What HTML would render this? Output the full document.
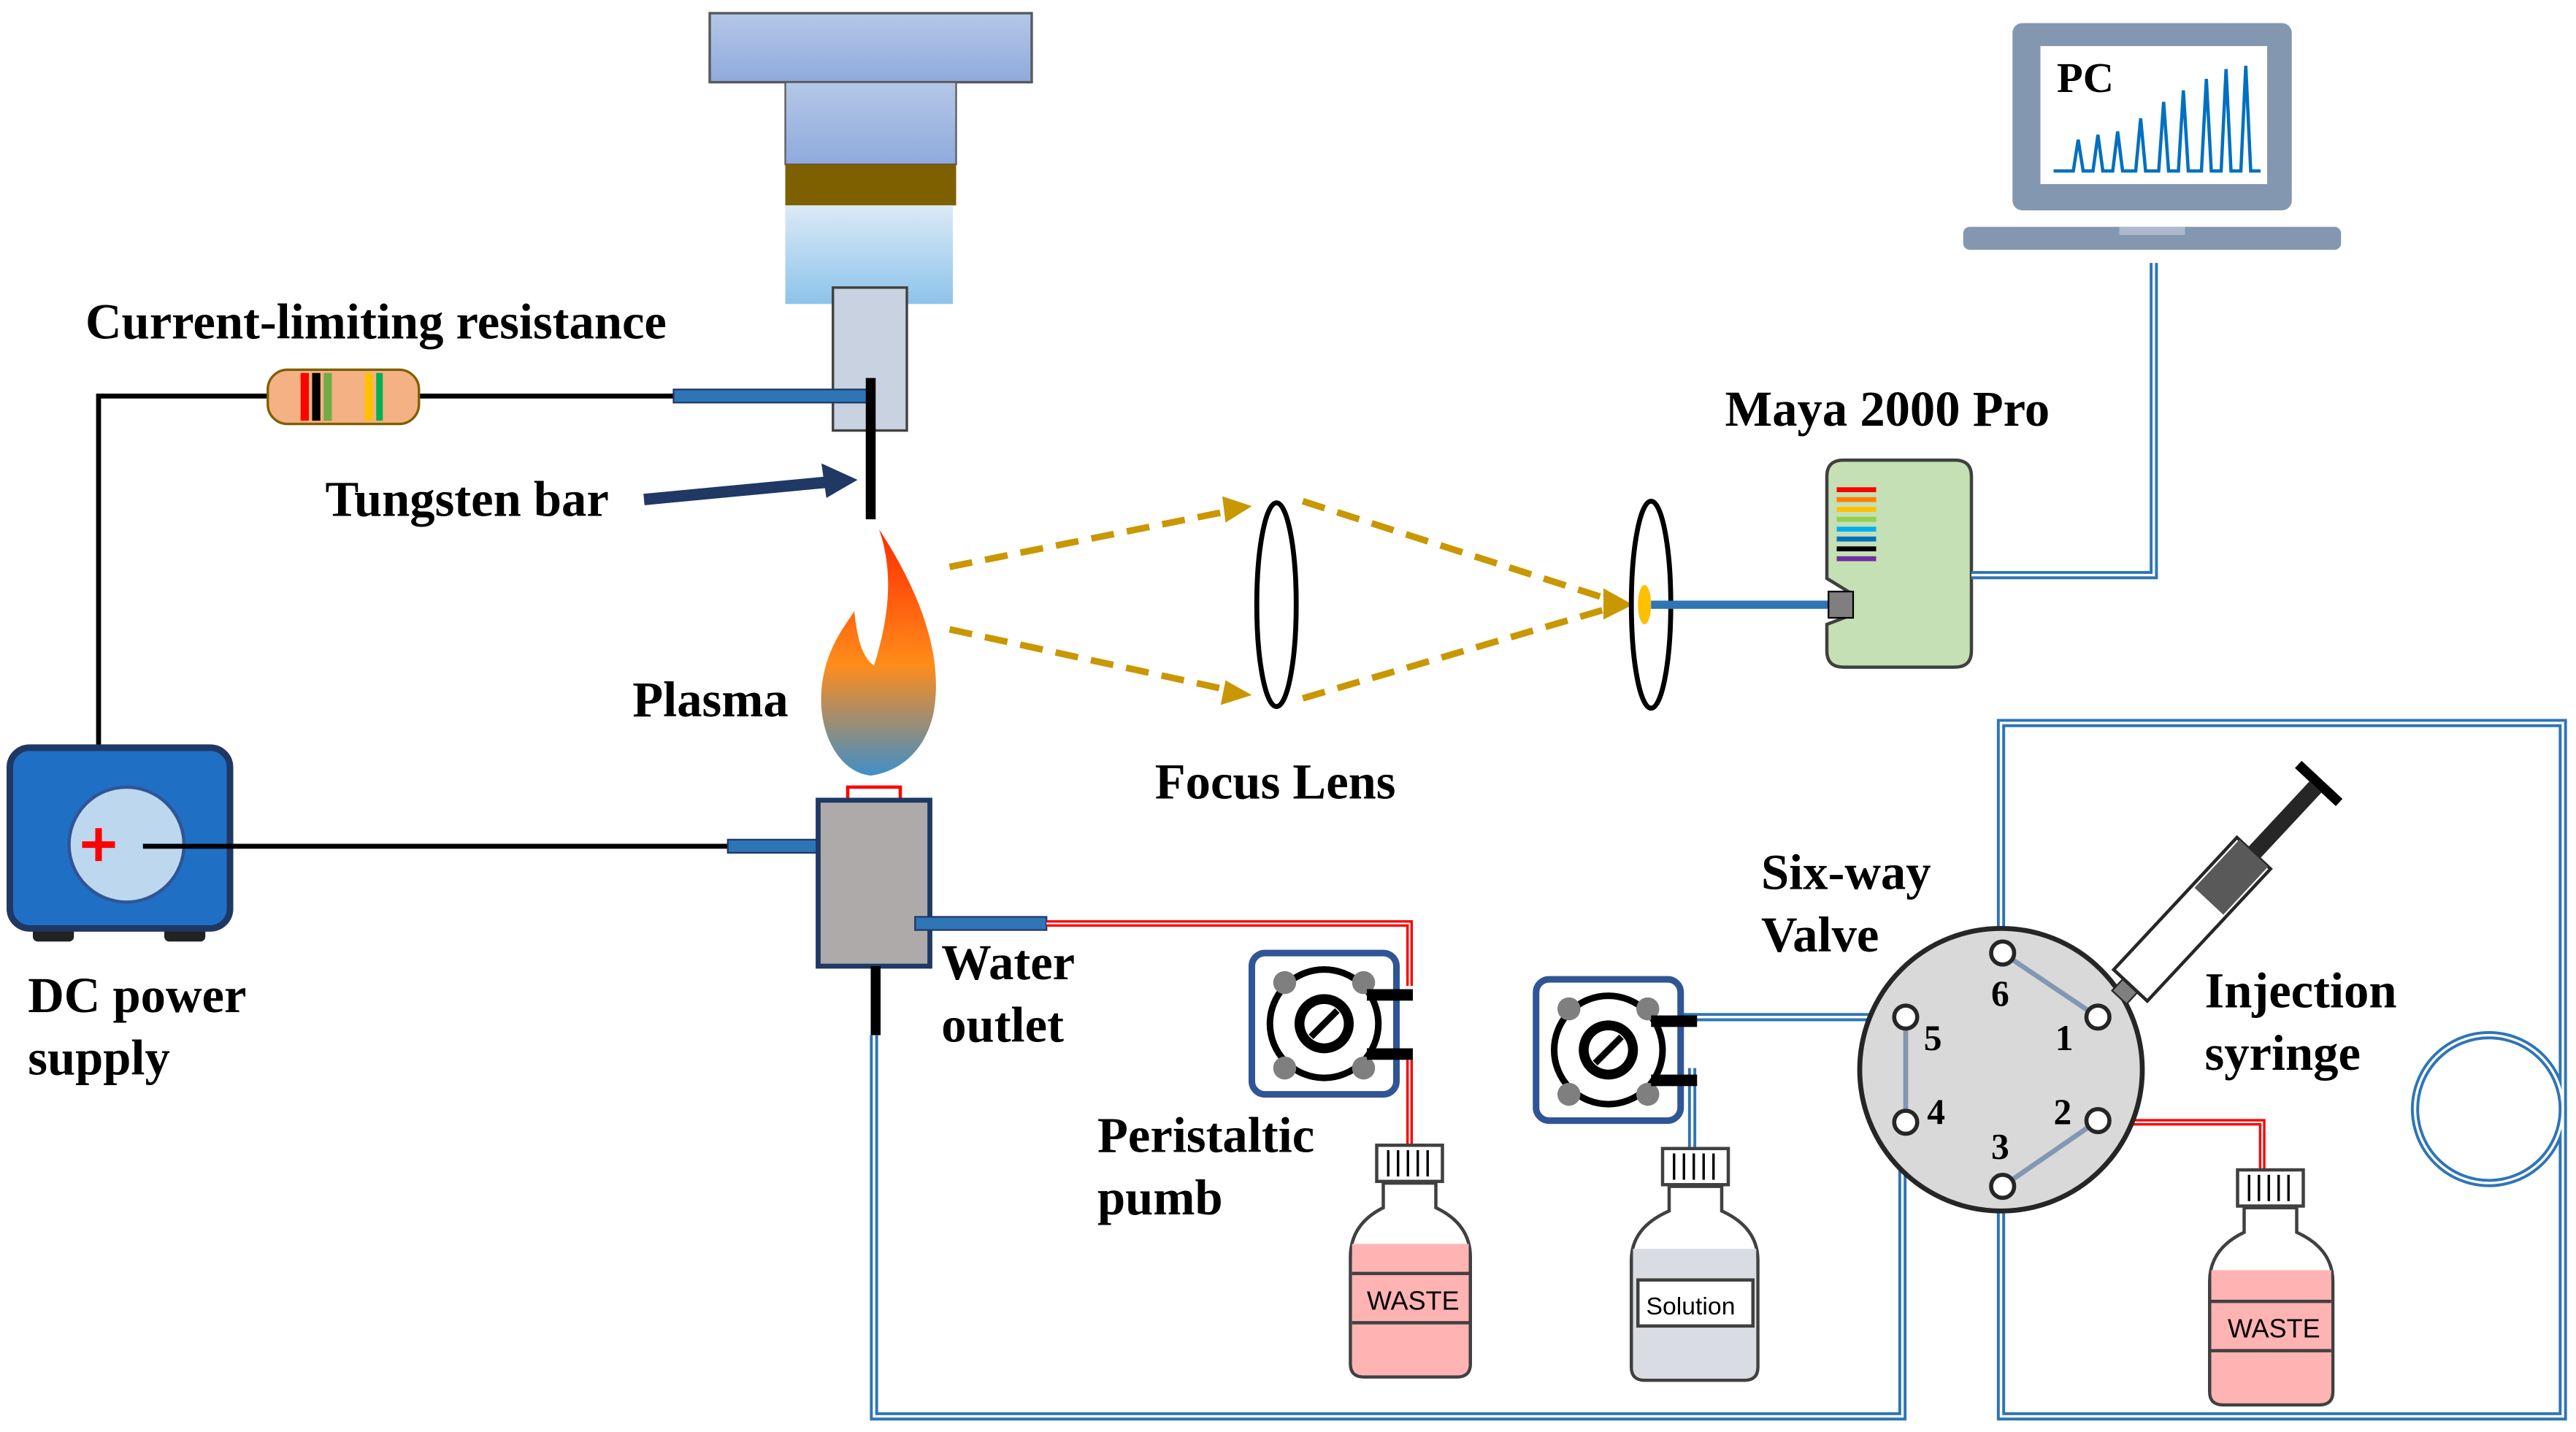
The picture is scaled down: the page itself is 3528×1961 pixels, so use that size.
<!DOCTYPE html>
<html><head><meta charset="utf-8"><style>html,body{margin:0;padding:0;background:#fff}svg{display:block}text{font-family:"Liberation Serif",serif;font-weight:bold;fill:#000}</style></head><body>
<svg width="3528" height="1961" viewBox="0 0 1568 871.5" xmlns="http://www.w3.org/2000/svg">
<defs>
<linearGradient id="g1" x1="0" y1="0" x2="0" y2="1"><stop offset="0" stop-color="#b4c7e7"/><stop offset="1" stop-color="#8faadc"/></linearGradient>
<linearGradient id="g2" x1="0" y1="0" x2="0" y2="1"><stop offset="0" stop-color="#dbeaf7"/><stop offset="1" stop-color="#8dc3ea"/></linearGradient>
<linearGradient id="fl" x1="0" y1="0" x2="0" y2="1"><stop offset="0" stop-color="#ff2a00"/><stop offset="0.55" stop-color="#ff8c1a"/><stop offset="1" stop-color="#3f8fc9"/></linearGradient>
<g id="pump"><rect x="0" y="0" width="88" height="86" rx="8" fill="#fff" stroke="#2f5597" stroke-width="4"/><circle cx="44" cy="43" r="33" fill="#fff" stroke="#000" stroke-width="4"/><circle cx="44" cy="43" r="18" fill="#000"/><circle cx="44" cy="43" r="12" fill="#fff"/><line x1="36" y1="51" x2="52" y2="35" stroke="#000" stroke-width="4"/><circle cx="20" cy="18" r="7" fill="#7f7f7f"/><circle cx="68" cy="18" r="7" fill="#7f7f7f"/><circle cx="20" cy="70" r="7" fill="#7f7f7f"/><circle cx="68" cy="70" r="7" fill="#7f7f7f"/><rect x="70" y="22" width="28" height="7" fill="#000"/><rect x="70" y="58" width="28" height="7" fill="#000"/></g>
</defs>
<rect x="432" y="8" width="196" height="42" fill="url(#g1)" stroke="#595959" stroke-width="1.5"/>
<rect x="478" y="50" width="104" height="50" fill="url(#g1)" stroke="#595959" stroke-width="1"/>
<rect x="478" y="100" width="104" height="25" fill="#7f6000"/>
<rect x="478" y="125" width="102" height="60" fill="url(#g2)"/>
<rect x="507" y="175" width="45" height="87" fill="#c9d2e0" stroke="#404040" stroke-width="1.5"/>
<polyline points="60,515 60,241 410,241" fill="none" stroke="#000" stroke-width="3"/>
<rect x="410" y="237" width="120" height="8" fill="#2e75b6" stroke="#1f3864" stroke-width="1"/>
<line x1="530" y1="230" x2="530" y2="316" stroke="#000" stroke-width="6"/>
<rect x="163" y="225" width="92" height="33" rx="12" fill="#f4b183" stroke="#7f6000" stroke-width="1.5"/>
<rect x="183" y="227" width="5" height="29" fill="#ff0000"/><rect x="190" y="227" width="5" height="29" fill="#000"/><rect x="197" y="227" width="5" height="29" fill="#70ad47"/><rect x="222" y="227" width="5" height="29" fill="#ffc000"/><rect x="229" y="227" width="4" height="29" fill="#00b050"/>
<line x1="392" y1="304" x2="508" y2="293" stroke="#1f3864" stroke-width="7"/>
<polygon points="522,292 500,282 503,303" fill="#1f3864"/>
<rect x="20" y="562" width="25" height="11" rx="3" fill="#222"/><rect x="100" y="562" width="25" height="11" rx="3" fill="#222"/>
<rect x="6" y="455" width="134" height="110" rx="12" fill="#1f6fc5" stroke="#1f3864" stroke-width="4"/>
<circle cx="77" cy="514" r="35" fill="#bdd7ee" stroke="#2f5597" stroke-width="2"/>
<line x1="50" y1="514" x2="70" y2="514" stroke="#ff0000" stroke-width="4"/><line x1="60" y1="504" x2="60" y2="524" stroke="#ff0000" stroke-width="4"/>
<line x1="87" y1="515" x2="445" y2="515" stroke="#000" stroke-width="3"/>
<rect x="443" y="511" width="82" height="8" fill="#2e75b6" stroke="#1f3864" stroke-width="1"/>
<path d="M535,322 C560,360 575,400 568,435 C562,460 545,470 530,472 C510,470 498,445 500,420 C502,395 515,380 520,372 C522,390 525,400 532,405 C540,380 545,350 535,322 Z" fill="url(#fl)"/>
<path d="M516,487 L516,479 L548,479 L548,487" fill="none" stroke="#ff0000" stroke-width="2"/>
<rect x="498" y="487" width="68" height="101" fill="#aeaaaa" stroke="#1f3864" stroke-width="3"/>
<rect x="530" y="588" width="6" height="42" fill="#000"/>
<rect x="557" y="558" width="80" height="8" fill="#2e75b6" stroke="#1f3864" stroke-width="1"/>
<g stroke="#c99700" stroke-width="4" stroke-dasharray="14,8" fill="none">
<line x1="578" y1="345" x2="748" y2="311"/><line x1="578" y1="383" x2="748" y2="420"/>
<line x1="793" y1="305" x2="980" y2="365"/><line x1="793" y1="425" x2="980" y2="370"/></g>
<polygon points="762,308 744,302 746,318" fill="#c99700"/><polygon points="762,423 746,414 743,429" fill="#c99700"/>
<polygon points="994,368 976,358 976,377" fill="#c99700"/>
<ellipse cx="777" cy="368" rx="12" ry="62" fill="none" stroke="#000" stroke-width="3"/>
<ellipse cx="1005" cy="368" rx="12" ry="63" fill="none" stroke="#000" stroke-width="3"/>
<ellipse cx="1001" cy="368" rx="4" ry="12" fill="#ffc000"/>
<line x1="1005" y1="368" x2="1115" y2="368" stroke="#2e75b6" stroke-width="5"/>
<path d="M1122,280 L1190,280 Q1200,280 1200,290 L1200,396 Q1200,406 1190,406 L1122,406 Q1112,406 1112,396 L1112,380 L1125,375 L1125,360 L1112,352 L1112,290 Q1112,280 1122,280 Z" fill="#c5e0b4" stroke="#404040" stroke-width="2"/>
<rect x="1113" y="360" width="15" height="16" fill="#7f7f7f" stroke="#000"/>
<g stroke-width="3"><line x1="1118" y1="298" x2="1142" y2="298" stroke="#ff0000"/><line x1="1118" y1="304" x2="1142" y2="304" stroke="#ff8000"/><line x1="1118" y1="310" x2="1142" y2="310" stroke="#ffc000"/><line x1="1118" y1="316" x2="1142" y2="316" stroke="#92d050"/><line x1="1118" y1="322" x2="1142" y2="322" stroke="#00b0f0"/><line x1="1118" y1="328" x2="1142" y2="328" stroke="#0070c0"/><line x1="1118" y1="334" x2="1142" y2="334" stroke="#000"/><line x1="1118" y1="340" x2="1142" y2="340" stroke="#7030a0"/></g>
<rect x="1225" y="14" width="170" height="114" rx="6" fill="#8497b0"/>
<rect x="1242" y="28" width="138" height="84" fill="#fff"/>
<rect x="1195" y="138" width="230" height="14" rx="4" fill="#8497b0"/>
<rect x="1290" y="138" width="40" height="5" fill="#adb9ca"/>
<polyline points="1250,104 1262,104 1265,85 1268,104 1274,104 1277,82 1280,104 1286,104 1289,80 1292,104 1300,104 1303,72 1306,104 1314,104 1317,62 1320,104 1326,104 1329,55 1332,104 1340,104 1343,48 1346,104 1352,104 1355,42 1358,104 1364,104 1367,40 1370,104 1376,104" fill="none" stroke="#0070c0" stroke-width="2"/>
<text x="1252" y="56" font-size="26">PC</text>
<g fill="none" stroke="#2e75b6" stroke-width="5">
<polyline points="1200,350 1311,350 1311,160"/>
<polyline points="1020,619 1158,619"/>
<polyline points="1030,650 1030,780"/>
<polyline points="532,630 532,862 1158,862 1158,683"/>
<polyline points="1218,722 1218,862 1560,862 1560,440 1218,440 1218,580"/>
<circle cx="1515" cy="675" r="45"/>
</g>
<g fill="none" stroke="#fff" stroke-width="1.5">
<polyline points="1200,350 1311,350 1311,160"/>
<polyline points="1020,619 1158,619"/>
<polyline points="1030,650 1030,780"/>
<polyline points="532,630 532,862 1158,862 1158,683"/>
<polyline points="1218,722 1218,862 1560,862 1560,440 1218,440 1218,580"/>
<circle cx="1515" cy="675" r="45"/>
</g>
<g fill="none" stroke="#ff0000" stroke-width="4"><polyline points="637,562 858,562 858,600"/><polyline points="858,640 858,815"/><polyline points="1277,683 1377,683 1377,830"/></g>
<g fill="none" stroke="#fff" stroke-width="1"><polyline points="637,562 858,562 858,600"/><polyline points="858,640 858,815"/><polyline points="1277,683 1377,683 1377,830"/></g>
<use href="#pump" x="762" y="580"/>
<use href="#pump" x="935" y="596"/>
<g stroke="#404040" stroke-width="2">
<rect x="838" y="697" width="40" height="22" fill="#fff"/>
<path d="M842,720 L874,720 L874,735 Q895,745 895,765 L895,830 Q895,838 887,838 L830,838 Q822,838 822,830 L822,765 Q822,745 842,735 Z" fill="#fff"/>
<path d="M823,757 L894,757 L894,830 Q894,837 887,837 L830,837 Q823,837 823,830 Z" fill="#ffb3b3" stroke="none"/>
<line x1="823" y1="775" x2="894" y2="775"/><line x1="823" y1="805" x2="894" y2="805"/>
<rect x="1012" y="699" width="40" height="22" fill="#fff"/>
<path d="M1016,722 L1048,722 L1048,737 Q1070,747 1070,767 L1070,832 Q1070,840 1062,840 L1001,840 Q993,840 993,832 L993,767 Q993,747 1016,737 Z" fill="#fff"/>
<path d="M994,760 L1069,760 L1069,832 Q1069,839 1062,839 L1001,839 Q994,839 994,832 Z" fill="#d9dde3" stroke="none"/>
<rect x="997" y="779" width="70" height="28" fill="#fff"/>
<rect x="1362" y="712" width="40" height="22" fill="#fff"/>
<path d="M1366,735 L1398,735 L1398,750 Q1420,760 1420,780 L1420,847 Q1420,855 1412,855 L1353,855 Q1345,855 1345,847 L1345,780 Q1345,760 1366,750 Z" fill="#fff"/>
<path d="M1346,773 L1419,773 L1419,847 Q1419,854 1412,854 L1353,854 Q1346,854 1346,847 Z" fill="#ffb3b3" stroke="none"/>
<line x1="1346" y1="792" x2="1419" y2="792"/><line x1="1346" y1="822" x2="1419" y2="822"/>
</g>
<g stroke="#000" stroke-width="1.5"><line x1="845" y1="700" x2="845" y2="716"/><line x1="851" y1="700" x2="851" y2="716"/><line x1="857" y1="700" x2="857" y2="716"/><line x1="863" y1="700" x2="863" y2="716"/><line x1="869" y1="700" x2="869" y2="716"/>
<line x1="1019" y1="702" x2="1019" y2="718"/><line x1="1025" y1="702" x2="1025" y2="718"/><line x1="1031" y1="702" x2="1031" y2="718"/><line x1="1037" y1="702" x2="1037" y2="718"/><line x1="1043" y1="702" x2="1043" y2="718"/>
<line x1="1369" y1="715" x2="1369" y2="731"/><line x1="1375" y1="715" x2="1375" y2="731"/><line x1="1381" y1="715" x2="1381" y2="731"/><line x1="1387" y1="715" x2="1387" y2="731"/><line x1="1393" y1="715" x2="1393" y2="731"/></g>
<text x="832" y="797" font-size="16" style="font-family:'Liberation Sans',sans-serif;font-weight:normal">WASTE</text>
<text x="1002" y="800" font-size="15" style="font-family:'Liberation Sans',sans-serif;font-weight:normal">Solution</text>
<text x="1356" y="814" font-size="16" style="font-family:'Liberation Sans',sans-serif;font-weight:normal">WASTE</text>
<circle cx="1218" cy="651" r="86" fill="#d9d9d9" stroke="#262626" stroke-width="3"/>
<g stroke="#8497b0" stroke-width="3"><line x1="1219" y1="580" x2="1277" y2="619"/><line x1="1160" y1="619" x2="1160" y2="683"/><line x1="1277" y1="682" x2="1219" y2="722"/></g>
<g fill="#fff" stroke="#262626" stroke-width="2.5"><circle cx="1219" cy="580" r="7"/><circle cx="1277" cy="619" r="7"/><circle cx="1277" cy="682" r="7"/><circle cx="1219" cy="722" r="7"/><circle cx="1160" cy="683" r="7"/><circle cx="1160" cy="619" r="7"/></g>
<g font-size="22"><text x="1212" y="612">6</text><text x="1251" y="639">1</text><text x="1250" y="684">2</text><text x="1212" y="705">3</text><text x="1173" y="684">4</text><text x="1171" y="639">5</text></g>
<g transform="translate(1290,607) rotate(-47)">
<rect x="0" y="-6" width="10" height="12" fill="#7f7f7f" stroke="#262626"/>
<rect x="10" y="-14" width="110" height="28" fill="#fff" stroke="#262626" stroke-width="2"/>
<rect x="80" y="-12" width="40" height="24" fill="#595959"/>
<rect x="120" y="-5" width="55" height="10" fill="#262626"/>
<rect x="175" y="-17" width="6" height="34" fill="#000"/>
</g>
<g font-size="30.5">
<text x="52" y="206">Current-limiting resistance</text>
<text x="198" y="314">Tungsten bar</text>
<text x="385" y="436">Plasma</text>
<text x="703" y="486">Focus Lens</text>
<text x="1050" y="259">Maya 2000 Pro</text>
<text x="17" y="616">DC power</text><text x="17" y="654">supply</text>
<text x="573" y="596">Water</text><text x="573" y="634">outlet</text>
<text x="668" y="701">Peristaltic</text><text x="668" y="739">pumb</text>
<text x="1072" y="541">Six-way</text><text x="1072" y="579">Valve</text>
<text x="1342" y="613">Injection</text><text x="1342" y="651">syringe</text>
</g>
</svg>
</body></html>
